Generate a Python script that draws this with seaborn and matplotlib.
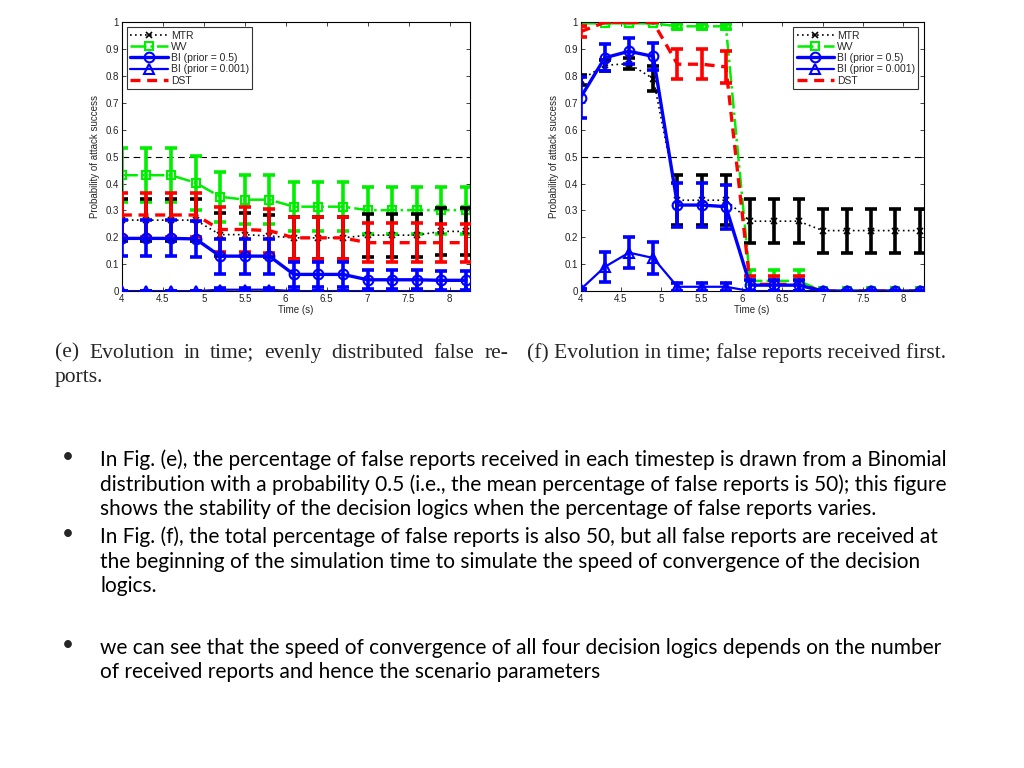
import matplotlib
matplotlib.use("Agg")
import matplotlib.pyplot as plt
import seaborn as sns

# time steps shared by both panels
time_s = [4.0, 4.3, 4.6, 4.9, 5.2, 5.5, 5.8, 6.1, 6.4, 6.7, 7.0, 7.3, 7.6, 7.9, 8.2]

# (e) evenly distributed false reports
e_mtr = [0.264, 0.264, 0.264, 0.264, 0.21, 0.21, 0.205, 0.198, 0.198, 0.198, 0.208, 0.208, 0.208, 0.222, 0.222]
e_mtr_err = [0.078, 0.078, 0.078, 0.078, 0.08, 0.08, 0.078, 0.078, 0.078, 0.078, 0.08, 0.08, 0.08, 0.086, 0.086]
e_wv = [0.431, 0.431, 0.431, 0.403, 0.351, 0.34, 0.34, 0.314, 0.314, 0.314, 0.301, 0.301, 0.301, 0.301, 0.301]
e_wv_err = [0.1, 0.1, 0.1, 0.1, 0.093, 0.09, 0.09, 0.09, 0.09, 0.09, 0.087, 0.087, 0.087, 0.087, 0.087]
e_bi5 = [0.196, 0.196, 0.196, 0.194, 0.13, 0.13, 0.13, 0.062, 0.062, 0.062, 0.042, 0.042, 0.042, 0.04, 0.04]
e_bi5_err = [0.067, 0.067, 0.067, 0.066, 0.065, 0.065, 0.065, 0.045, 0.045, 0.045, 0.035, 0.035, 0.035, 0.035, 0.035]
e_bi001 = [0.0, 0.0, 0.0, 0.0, 0.005, 0.005, 0.005, 0.0, 0.0, 0.0, 0.0, 0.0, 0.0, 0.0, 0.0]
e_bi001_err = [0.0, 0.0, 0.0, 0.0, 0.005, 0.005, 0.005, 0.0, 0.0, 0.0, 0.0, 0.0, 0.0, 0.0, 0.0]
e_dst = [0.283, 0.283, 0.283, 0.283, 0.229, 0.229, 0.225, 0.198, 0.198, 0.198, 0.18, 0.18, 0.18, 0.18, 0.18]
e_dst_err = [0.08, 0.08, 0.08, 0.08, 0.085, 0.085, 0.082, 0.077, 0.077, 0.077, 0.073, 0.073, 0.073, 0.07, 0.07]

# (f) false reports received first
f_mtr = [0.785, 0.84, 0.846, 0.79, 0.338, 0.338, 0.338, 0.26, 0.26, 0.26, 0.225, 0.225, 0.225, 0.225, 0.225]
f_mtr_err = [0.02, 0.02, 0.02, 0.046, 0.092, 0.092, 0.092, 0.083, 0.083, 0.083, 0.082, 0.082, 0.082, 0.082, 0.082]
f_wv = [0.996, 0.996, 0.996, 0.996, 0.985, 0.985, 0.985, 0.038, 0.038, 0.038, 0.0, 0.0, 0.0, 0.0, 0.0]
f_wv_err = [0.0, 0.0, 0.0, 0.0, 0.01, 0.01, 0.01, 0.04, 0.04, 0.04, 0.0, 0.0, 0.0, 0.0, 0.0]
f_bi5 = [0.72, 0.868, 0.892, 0.873, 0.32, 0.32, 0.314, 0.022, 0.022, 0.022, 0.0, 0.0, 0.0, 0.0, 0.0]
f_bi5_err = [0.075, 0.05, 0.048, 0.05, 0.082, 0.082, 0.082, 0.02, 0.02, 0.02, 0.0, 0.0, 0.0, 0.0, 0.0]
f_bi001 = [0.006, 0.09, 0.143, 0.123, 0.016, 0.016, 0.016, 0.0, 0.0, 0.0, 0.0, 0.0, 0.0, 0.0, 0.0]
f_bi001_err = [0.0, 0.055, 0.058, 0.058, 0.015, 0.015, 0.015, 0.0, 0.0, 0.0, 0.0, 0.0, 0.0, 0.0, 0.0]
f_dst = [0.965, 1.0, 1.0, 1.0, 0.844, 0.844, 0.834, 0.025, 0.025, 0.025, 0.0, 0.0, 0.0, 0.0, 0.0]
f_dst_err = [0.02, 0.0, 0.0, 0.0, 0.055, 0.055, 0.06, 0.03, 0.03, 0.03, 0.0, 0.0, 0.0, 0.0, 0.0]

x_ticks = [4, 4.5, 5, 5.5, 6, 6.5, 7, 7.5, 8]
x_tick_labels = ["4", "4.5", "5", "5.5", "6", "6.5", "7", "7.5", "8"]
y_ticks = [0, 0.1, 0.2, 0.3, 0.4, 0.5, 0.6, 0.7, 0.8, 0.9, 1.0]
y_tick_labels = ["0", "0.1", "0.2", "0.3", "0.4", "0.5", "0.6", "0.7", "0.8", "0.9", "1"]

caption_e = ["(e) Evolution in time; evenly distributed false re-", "ports."]
caption_f = "(f) Evolution in time; false reports received first."
bullets = [
    ["In Fig. (e), the percentage of false reports received in each timestep is drawn from a Binomial",
     "distribution with a probability 0.5 (i.e., the mean percentage of false reports is 50); this figure",
     "shows the stability of the decision logics when the percentage of false reports varies."],
    ["In Fig. (f), the total percentage of false reports is also 50, but all false reports are received at",
     "the beginning of the simulation time to simulate the speed of convergence of the decision",
     "logics."],
    ["we can see that the speed of convergence of all four decision logics depends on the number",
     "of received reports and hence the scenario parameters"],
]

sns.set_theme(style="white")
plt.rcParams["font.family"] = ["Liberation Sans", "DejaVu Sans"]

BLUE = "#0000ff"
GREEN = "#00ee00"
RED = "#ff0000"


def draw_panel(ax, series, legend_loc):
    # series: (label, vals, errs, style, zorder)
    for label, vals, errs, st, z in series:
        ax.errorbar(time_s, vals, yerr=errs, fmt="none", ecolor=st["color"],
                    elinewidth=2.6, capsize=4, capthick=2.6, zorder=z)
    for label, vals, errs, st, z in series:
        sns.lineplot(x=time_s, y=vals, ax=ax, label=label, zorder=z + 0.5, **st)
    ax.axhline(0.5, color="black", linestyle=(0, (6, 4)), linewidth=0.8, zorder=1)

    ax.set_xlim(4, 8.25)
    ax.set_ylim(0, 1)
    ax.set_xticks(x_ticks)
    ax.set_xticklabels(x_tick_labels)
    ax.set_yticks(y_ticks)
    ax.set_yticklabels(y_tick_labels)
    ax.tick_params(direction="in", length=3, width=0.6, labelsize=7, pad=2,
                   top=True, right=True, bottom=True, left=True, colors="#222222")
    for sp in ax.spines.values():
        sp.set_color("black")
        sp.set_linewidth(0.8)
    ax.set_xlabel("Time (s)", fontsize=7, labelpad=1)
    ax.set_ylabel("Probability of attack success", fontsize=7, labelpad=4)
    leg = ax.legend(loc=legend_loc, fontsize=7.5, frameon=True, fancybox=False,
                    edgecolor="black", handlelength=3.6, borderpad=0.3,
                    labelspacing=0.12, handletextpad=0.3, borderaxespad=0.5)
    leg.get_frame().set_linewidth(0.8)


def styles():
    return {
        "MTR": dict(color="black", linestyle=(0, (1, 2)), linewidth=1.2, marker="x",
                    markersize=4, markeredgewidth=1.2, markeredgecolor="black"),
        "WV": dict(color=GREEN, linestyle="-.", linewidth=1.8, marker="s", markersize=6,
                   markerfacecolor="none", markeredgecolor=GREEN, markeredgewidth=1.5),
        "BI5": dict(color=BLUE, linestyle="-", linewidth=2.4, marker="o", markersize=7,
                    markerfacecolor="none", markeredgecolor=BLUE, markeredgewidth=1.5),
        "BI001": dict(color=BLUE, linestyle="-", linewidth=1.6, marker="^", markersize=7,
                      markerfacecolor="none", markeredgecolor=BLUE, markeredgewidth=1.5),
        "DST": dict(color=RED, linestyle=(0, (3, 2)), linewidth=2.4),
    }


fig = plt.figure(figsize=(10.24, 7.68), dpi=100)
ax_e = fig.add_axes([0.119, 0.621, 0.340, 0.350])
ax_f = fig.add_axes([0.567, 0.621, 0.335, 0.350])

s = styles()
draw_panel(ax_e, [
    ("MTR", e_mtr, e_mtr_err, s["MTR"], 3),
    ("WV", e_wv, e_wv_err, s["WV"], 2),
    ("BI (prior = 0.5)", e_bi5, e_bi5_err, s["BI5"], 5),
    ("BI (prior = 0.001)", e_bi001, e_bi001_err, s["BI001"], 6),
    ("DST", e_dst, e_dst_err, s["DST"], 4),
], "upper left")

draw_panel(ax_f, [
    ("MTR", f_mtr, f_mtr_err, s["MTR"], 3),
    ("WV", f_wv, f_wv_err, s["WV"], 2),
    ("BI (prior = 0.5)", f_bi5, f_bi5_err, s["BI5"], 5),
    ("BI (prior = 0.001)", f_bi001, f_bi001_err, s["BI001"], 6),
    ("DST", f_dst, f_dst_err, s["DST"], 4),
], "upper right")

# captions under the panels
serif = ["Liberation Serif", "DejaVu Serif"]
cap_size = 15.5
W, H = 1024, 768
renderer = fig.canvas.get_renderer()


def justified(text, x0, x1, y):
    # spread words so the line fills x0..x1 (pixels)
    words = text.split(" ")
    items = [fig.text(0, 1 - y / H, w, family=serif, fontsize=cap_size, va="center") for w in words]
    widths = [t.get_window_extent(renderer).width for t in items]
    gap = (x1 - x0 - sum(widths)) / (len(words) - 1)
    x = x0
    for t, w in zip(items, widths):
        t.set_x(x / W)
        x += w + gap


justified(caption_e[0], 55, 508, 353)
fig.text(55 / W, 1 - 377 / H, caption_e[1], family=serif, fontsize=cap_size, va="center")
fig.text(527 / W, 1 - 353 / H, caption_f, family=serif, fontsize=cap_size, va="center")

# bullet text
sans = ["Lato", "DejaVu Sans"]
block_tops = [460, 537, 648]
for lines, y0 in zip(bullets, block_tops):
    fig.text(62 / W, 1 - (y0 - 3) / H, "\u2022", family=sans, fontsize=15, va="center")
    for i, line in enumerate(lines):
        fig.text(100 / W, 1 - (y0 + i * 24.5) / H, line, family=sans,
                 fontsize=15, va="center", color="black")

fig.savefig("out.png", dpi=100, facecolor="white")
